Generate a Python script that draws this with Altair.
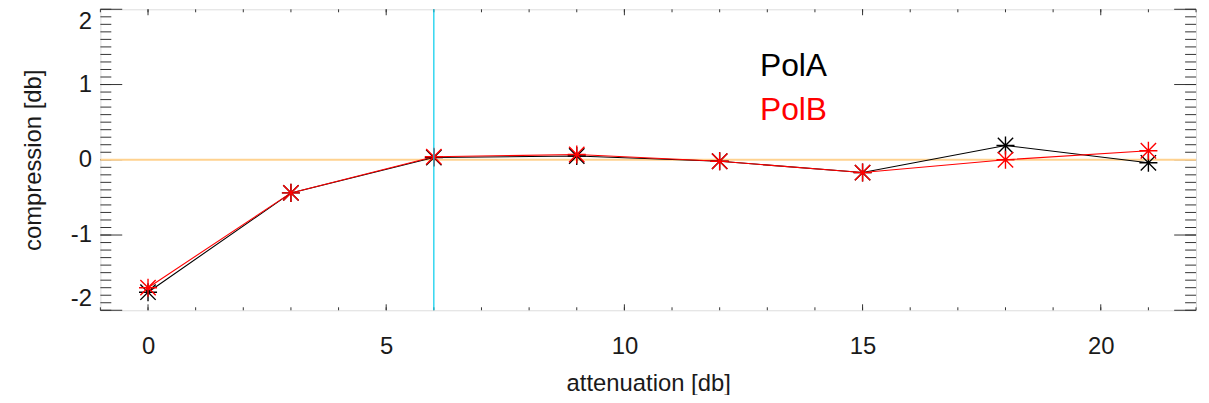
import altair as alt
import pandas as pd

# ---- data ----
atten = [0, 3, 6, 9, 12, 15, 18, 21]
pol_a = [-1.76, -0.44, 0.03, 0.05, -0.02, -0.17, 0.19, -0.04]
pol_b = [-1.70, -0.44, 0.04, 0.07, -0.02, -0.17, 0.00, 0.12]
series_names = ["PolA", "PolB"]
series_colors = ["#000000", "#ff0000"]

x_major = [0, 5, 10, 15, 20]
x_minor = list(range(-1, 23))
y_major = [-2, -1, 0, 1, 2]
y_minor = [round(-2 + 0.1 * i, 1) for i in range(41)]
x_domain = [-1, 22]
y_domain = [-2, 2]
ref_y = [0]          # horizontal reference line
ref_x = [6]          # vertical marker line

W, H = 1103, 303
FONT = "Liberation Sans"
TXT = "#1a1a1a"
TICK = "#333333"

xs = alt.Scale(domain=x_domain, nice=False, zero=False)
ys = alt.Scale(domain=y_domain, nice=False, zero=False)

X = alt.X(
    "x:Q", scale=xs,
    axis=alt.Axis(values=x_major, title="attenuation [db]", ticks=False, domain=False,
                  grid=False, labelPadding=25, labelFontSize=24, labelFont=FONT,
                  labelColor=TXT, titleFont=FONT, titleFontSize=24, titleColor=TXT,
                  titleFontWeight="normal", titleY=81, titleBaseline="alphabetic",
                  labelExpr="'' + datum.value"),
)
Y = alt.Y(
    "y:Q", scale=ys,
    axis=alt.Axis(values=y_major, title="compression [db]", ticks=False, domain=False,
                  grid=False, labelPadding=9, labelFontSize=24, labelFont=FONT,
                  labelColor=TXT, labelFlush=True, titleFont=FONT, titleFontSize=24,
                  titleColor=TXT, titleFontWeight="normal", titleX=-55, titleY=H / 2,
                  titleAngle=270, titleBaseline="bottom", titleAlign="center",
                  labelExpr="'' + datum.value"),
)

rows = []
for name, vals in zip(series_names, [pol_a, pol_b]):
    for a, v in zip(atten, vals):
        rows.append({"x": a, "y": v, "series": name})
df = pd.DataFrame(rows)

color = alt.Color("series:N", scale=alt.Scale(domain=series_names, range=series_colors),
                  legend=None)

star = "M0,-1L0,1M-1,0L1,0M-0.85,-0.85L0.85,0.85M-0.85,0.85L0.85,-0.85"

base = alt.Chart(df)
lines = base.mark_line(strokeWidth=1.1).encode(x=X, y=Y, color=color, detail="series:N")
points = base.mark_point(shape=star, filled=False, size=330, strokeWidth=1.4,
                         opacity=1).encode(x=X, y=Y, color=color)

hline = alt.Chart(pd.DataFrame({"y": ref_y})).mark_rule(
    color="#ffd28f", strokeWidth=2).encode(y=Y)
vline = alt.Chart(pd.DataFrame({"x": ref_x})).mark_rule(
    color="#00ccec", strokeWidth=1.2).encode(x=X)

xmaj = pd.DataFrame({"x": x_major})
xmin = pd.DataFrame({"x": x_minor})
ymaj = pd.DataFrame({"y": y_major})
ymin = pd.DataFrame({"y": y_minor})

def xticks(d, length):
    bot = alt.Chart(d).mark_rule(color=TICK, strokeWidth=1).encode(
        x=X, y=alt.value(H), y2=alt.value(H - length))
    top = alt.Chart(d).mark_rule(color=TICK, strokeWidth=1).encode(
        x=X, y=alt.value(0), y2=alt.value(length))
    return [bot, top]

def yticks(d, length):
    left = alt.Chart(d).mark_rule(color=TICK, strokeWidth=1).encode(
        y=Y, x=alt.value(0), x2=alt.value(length))
    right = alt.Chart(d).mark_rule(color=TICK, strokeWidth=1).encode(
        y=Y, x=alt.value(W), x2=alt.value(W - length))
    return [left, right]

tick_layers = xticks(xmin, 3) + xticks(xmaj, 6) + yticks(ymin, 11) + yticks(ymaj, 22)

legend_df = pd.DataFrame({"label": series_names, "row": [0, 1]})
legend_a = alt.Chart(legend_df[legend_df.row == 0]).mark_text(
    align="left", baseline="alphabetic", font=FONT, fontSize=32, color=series_colors[0]
).encode(text="label:N", x=alt.value(664), y=alt.value(67))
legend_b = alt.Chart(legend_df[legend_df.row == 1]).mark_text(
    align="left", baseline="alphabetic", font=FONT, fontSize=32, color=series_colors[1]
).encode(text="label:N", x=alt.value(664), y=alt.value(111))

chart = alt.layer(
    *tick_layers, hline, lines, points, vline, legend_a, legend_b
).properties(
    width=W, height=H,
    autosize=alt.AutoSizeParams(type="none"),
    padding={"left": 93, "top": 0, "right": 5, "bottom": 84},
).configure_view(
    stroke="#111111", strokeWidth=1.2
).configure(background="white")

chart.save("out.html", embed_options={"renderer": "svg", "actions": False})
